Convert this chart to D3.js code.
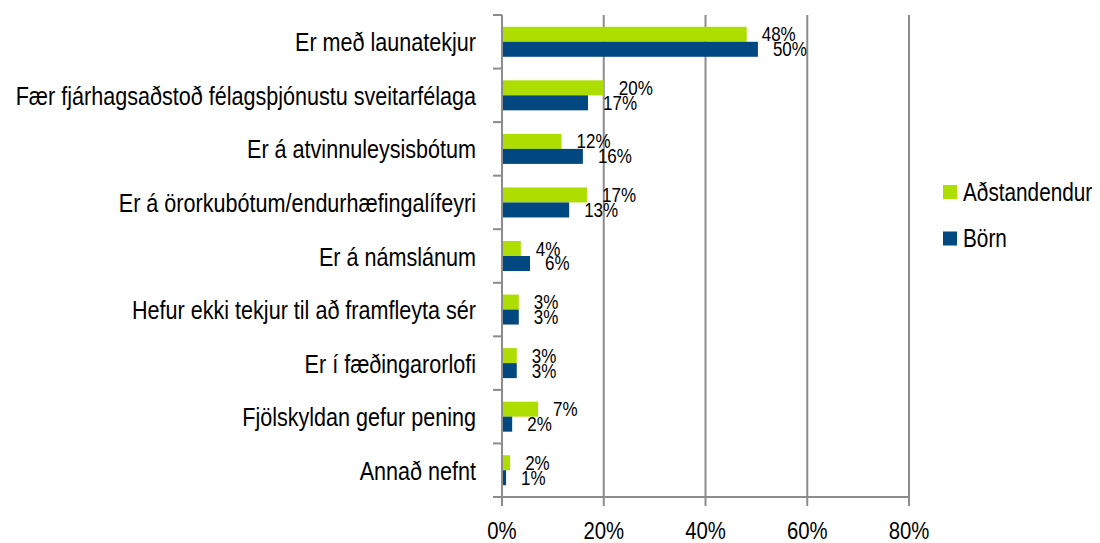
<!DOCTYPE html>
<html>
<head>
<meta charset="utf-8">
<script src="https://cdn.jsdelivr.net/npm/d3@7"></script>
<style>
  html, body { margin: 0; padding: 0; background: #fff; }
  svg { display: block; }
  text { font-family: "Liberation Sans", Arial, sans-serif; fill: #000; }
</style>
</head>
<body>
<svg id="chart" width="1100" height="543"></svg>
<script>
// Income sources, share of respondents
const categories = [
  "Er með launatekjur",
  "Fær fjárhagsaðstoð félagsþjónustu sveitarfélaga",
  "Er á atvinnuleysisbótum",
  "Er á örorkubótum/endurhæfingalífeyri",
  "Er á námslánum",
  "Hefur ekki tekjur til að framfleyta sér",
  "Er í fæðingarorlofi",
  "Fjölskyldan gefur pening",
  "Annað nefnt"
];
const seriesNames = ["Aðstandendur", "Börn"];
const adstandendur = [0.481, 0.200, 0.117, 0.167, 0.037, 0.033, 0.029, 0.071, 0.016];
const born         = [0.503, 0.169, 0.159, 0.132, 0.055, 0.033, 0.029, 0.020, 0.008];
const xTicks = [0, 0.2, 0.4, 0.6, 0.8];

const colors = ["#aedd00", "#00487f"];
const SX = 0.83; // narrow text face

const svg = d3.select("#chart");

const x = d3.scaleLinear().domain([0, 0.8]).range([502, 909]);
const y = d3.scaleBand().domain(categories).range([15, 497]).padding(0);
const bw = y.bandwidth();
const barH = bw * 0.28;
const barOff = bw * 0.22;
const pct = d3.format(".0%");

function label(g, tx, ty, str, size, anchor) {
  return g.append("text")
    .attr("transform", `translate(${tx},${ty}) scale(${SX},1)`)
    .attr("text-anchor", anchor)
    .style("font-size", size + "px")
    .text(str);
}

// vertical gridlines
svg.append("g").selectAll("line")
  .data(xTicks.slice(1))
  .join("line")
  .attr("x1", d => x(d)).attr("x2", d => x(d))
  .attr("y1", 15).attr("y2", 497)
  .attr("stroke", "#8c8c8c").attr("stroke-width", 2);

// bars
const rows = categories.map((c, i) => ({ c, vals: [adstandendur[i], born[i]] }));
const rowG = svg.append("g").selectAll("g").data(rows).join("g")
  .attr("transform", d => `translate(0,${y(d.c)})`);

rowG.selectAll("rect")
  .data(d => d.vals.map((v, k) => ({ v, k })))
  .join("rect")
  .attr("x", x(0))
  .attr("y", d => barOff + d.k * barH)
  .attr("width", d => x(d.v) - x(0))
  .attr("height", barH)
  .attr("fill", d => colors[d.k]);

// value labels
rowG.each(function (d) {
  const g = d3.select(this);
  d.vals.forEach((v, k) => {
    label(g, x(v) + 15, barOff + k * barH + barH / 2 + 7, pct(v), 20.5, "start");
  });
});

// axes
const axG = svg.append("g").attr("stroke", "#8c8c8c").attr("stroke-width", 2);
axG.append("line").attr("x1", x(0)).attr("x2", x(0)).attr("y1", 15).attr("y2", 497);
axG.append("line").attr("x1", 493).attr("x2", x(0.8)).attr("y1", 497).attr("y2", 497);
// category tick marks
axG.selectAll(".yt").data(d3.range(categories.length + 1)).join("line")
  .attr("class", "yt")
  .attr("x1", 493).attr("x2", x(0))
  .attr("y1", i => 15 + i * bw).attr("y2", i => 15 + i * bw);
// value tick marks
axG.selectAll(".xt").data(xTicks).join("line")
  .attr("class", "xt")
  .attr("x1", d => x(d)).attr("x2", d => x(d))
  .attr("y1", 497).attr("y2", 506);

// x tick labels
const xl = svg.append("g");
xTicks.forEach(t => label(xl, x(t), 539, pct(t), 24.5, "middle"));

// category labels
const yl = svg.append("g");
categories.forEach(c => label(yl, 476, y(c) + bw / 2 + 9.5, c, 26, "end"));

// legend
const lg = svg.append("g");
seriesNames.forEach((n, k) => {
  const top = 185 + k * 46.5;
  lg.append("rect").attr("x", 943).attr("y", top).attr("width", 14).attr("height", 14)
    .attr("fill", colors[k]);
  label(lg, 963, top + 15.5, n, 25, "start");
});
</script>
</body>
</html>
